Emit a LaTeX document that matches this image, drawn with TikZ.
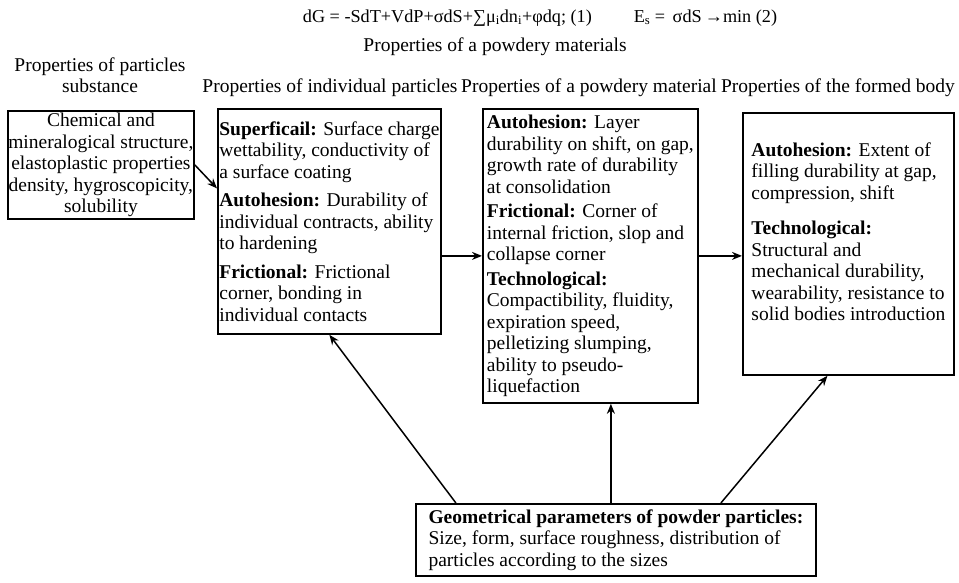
\documentclass[tikz,border=0pt]{standalone}
\usepackage{fontspec}
\setmainfont{Liberation Serif}
\usetikzlibrary{arrows.meta}

\tikzset{
  boite/.style={draw, line width=1.8pt, inner sep=0pt, anchor=north west, align=left,
    font=\fontsize{19.5}{21.5}\selectfont},
  titre/.style={inner sep=0pt, font=\fontsize{19.5}{21.5}\selectfont},
  fleche/.style={line width=1.5pt, -{Stealth[length=10pt,width=8pt]}},
}

\begin{document}
\begin{tikzpicture}[x=1pt,y=1pt]
    \useasboundingbox (0,0) rectangle (959,-583);

    % formules
    \node[titre, font=\fontsize{18.2}{21}\selectfont] (eq) at (540,-18) {dG = -SdT+VdP+σdS+∑μ\textsubscript{i}dn\textsubscript{i}+φdq; (1)\hspace{2.3em}E\textsubscript{s} = \,σdS\,→min (2)};
    \node[titre] (titre) at (495,-47) {Properties of a powdery materials};

    % en-tetes
    \node[titre, align=center] (hsubst) at (100,-75) {Properties of particles\\substance};
    \node[titre] (hindiv) at (330,-88) {Properties of individual particles};
    \node[titre] (hpowder) at (589,-88) {Properties of a powdery material};
    \node[titre] (hbody) at (838,-88) {Properties of the formed body};

    % boites
    \node[boite, align=center, minimum width=186pt, minimum height=108pt] (subst) at (7,-110)
        {Chemical and\\mineralogical structure,\\elastoplastic properties\\density, hygroscopicity,\\solubility};
    \node[boite, minimum width=223pt, minimum height=225pt] (indiv) at (217,-108)
        {\textbf{Superficail:} Surface charge\\wettability, conductivity of\\a surface coating\\[7pt]
         \textbf{Autohesion:} Durability of\\individual contracts, ability\\to hardening\\[7pt]
         \textbf{Frictional:} Frictional\\corner, bonding in\\individual contacts};
    \node[boite, minimum width=215pt, minimum height=294pt] (powder) at (482,-108)
        {\textbf{Autohesion:} Layer\\durability on shift, on gap,\\growth rate of durability\\at consolidation\\[3pt]
         \textbf{Frictional:} Corner of\\internal friction, slop and\\collapse corner\\[3pt]
         \textbf{Technological:}\\Compactibility, fluidity,\\expiration speed,\\pelletizing slumping,\\ability to pseudo-\\liquefaction};
    \node[boite, minimum width=211pt, minimum height=262pt, text depth=25pt] (body) at (742,-112)
        {\textbf{Autohesion:} Extent of\\filling durability at gap,\\compression, shift\\[14pt]
         \textbf{Technological:}\\Structural and\\mechanical durability,\\wearability, resistance to\\solid bodies introduction};
    \node[boite, minimum width=400pt, minimum height=72pt] (geom) at (415,-503)
        {\textbf{Geometrical parameters of powder particles:}\\Size, form, surface roughness, distribution of\\particles according to the sizes};

    % fleches
    \draw[fleche] (subst.east) -- ([yshift=33pt]indiv.west);
    \draw[fleche] (indiv.east |- powder.west) -- (powder.west);
    \draw[fleche] (powder.east) -- (powder.east -| body.west);
    \draw[fleche] ([xshift=-160pt]geom.north) -- (indiv.south);
    \draw[fleche] ([xshift=-5pt]geom.north) -- ([xshift=-5pt]geom.north |- powder.south);
    \draw[fleche] ([xshift=105pt]geom.north) -- ([xshift=-21pt]body.south);

\end{tikzpicture}
\end{document}
